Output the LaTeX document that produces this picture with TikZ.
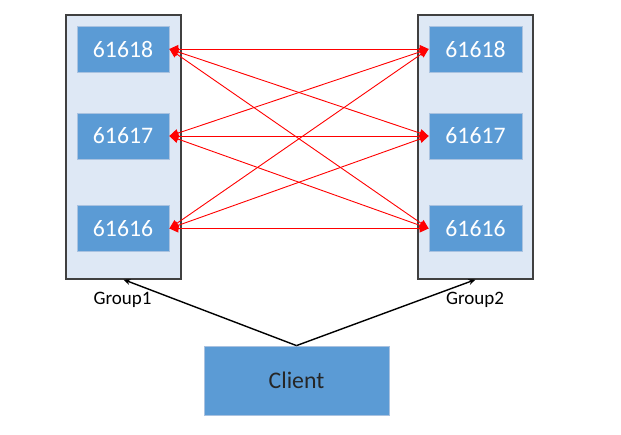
\documentclass[tikz,border=0pt]{standalone}
\usepackage{fontspec}
\setmainfont{Carlito}
\usetikzlibrary{arrows.meta}
\definecolor{grpfill}{HTML}{DEE8F5}
\definecolor{grpline}{HTML}{404040}
\definecolor{boxfill}{HTML}{5B9BD5}
\definecolor{boxline}{HTML}{A9C2E0}
\definecolor{linkred}{HTML}{FF0000}
\tikzset{
  grp/.style={draw=grpline, fill=grpfill, line width=1.2pt, minimum width=115pt, minimum height=264pt, inner sep=0pt},
  port/.style={draw=boxline, fill=boxfill, line width=0.8pt, minimum width=92pt, minimum height=46pt, inner sep=0pt, text=white, font=\fontsize{23.7}{28}\selectfont},
  clientbox/.style={draw=boxline, fill=boxfill, line width=0.8pt, minimum width=185pt, minimum height=69pt, inner sep=0pt, text=black!85, font=\fontsize{23.8}{28}\selectfont},
  grplabel/.style={font=\fontsize{19}{22}\selectfont, text=black},
  link/.style={draw=linkred, line width=0.9pt, {Triangle[length=9pt,width=8pt]}-{Triangle[length=9pt,width=8pt]}},
  feed/.style={draw=black, line width=1.4pt, -{Stealth[length=7pt,width=6pt]}}
}
\begin{document}
\begin{tikzpicture}[x=1pt,y=-1pt]
\useasboundingbox (0,0) rectangle (621,435);
\node[grp] (G1) at (123.5,147) {};
\node[grp] (G2) at (475.5,147) {};
\node[port] (L1) at (123,49) {61618};
\node[port] (L2) at (123,136) {61617};
\node[port] (L3) at (123,228.5) {61616};
\node[port, minimum width=93pt] (R1) at (475.5,49) {61618};
\node[port, minimum width=93pt] (R2) at (475.5,136) {61617};
\node[port, minimum width=93pt] (R3) at (475.5,228.5) {61616};
\node[grplabel] (T1) at (122.5,300) {Group1};
\node[grplabel] (T2) at (475,300) {Group2};
\node[clientbox] (C) at (296.5,380.5) {Client};
\foreach \a in {L1,L2,L3}{
  \foreach \b in {R1,R2,R3}{
    \draw[link] (\a.east) -- (\b.west);
  }
}
\draw[feed] (C.north) -- (G1.south);
\draw[feed] (C.north) -- (G2.south);
\end{tikzpicture}
\end{document}
